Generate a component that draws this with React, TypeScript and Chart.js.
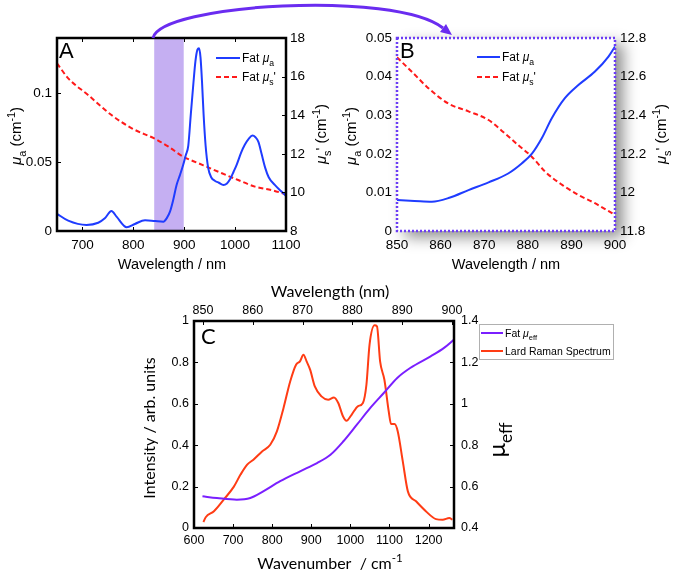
import React, { useEffect, useRef } from 'react';
import { Chart, registerables } from 'chart.js';
Chart.register(...registerables);

// ---------- Panel A ----------
const A_X_TICKS = [700, 800, 900, 1000, 1100];
const A_Y_TICKS = [0, 0.05, 0.1];
const A_Y2_TICKS = [8, 10, 12, 14, 16, 18];
const A_SHADE = [841, 899];
const A_WL_MUA = [650, 672, 708, 731, 744, 757, 767, 787, 803, 823, 843, 859, 866, 872, 878, 885, 892, 898, 903, 908, 913, 918, 922, 926, 929, 932, 935, 938, 942, 947, 953, 960, 968, 977, 984, 990, 997, 1003, 1012, 1019, 1027, 1034, 1040, 1046, 1052, 1059, 1066, 1078, 1090, 1100];
const A_MUA = [0.0125, 0.0075, 0.0044, 0.006, 0.0092, 0.0145, 0.0104, 0.0027, 0.0051, 0.0078, 0.0072, 0.0068, 0.0095, 0.014, 0.022, 0.0334, 0.041, 0.048, 0.055, 0.062, 0.085, 0.107, 0.123, 0.1315, 0.1325, 0.126, 0.108, 0.085, 0.062, 0.046, 0.039, 0.0365, 0.035, 0.0334, 0.0345, 0.0375, 0.043, 0.048, 0.057, 0.0625, 0.067, 0.0692, 0.068, 0.0645, 0.056, 0.046, 0.039, 0.0334, 0.029, 0.0255];
const A_WL_MUS = [650, 672, 711, 757, 797, 843, 869, 898, 928, 967, 1006, 1039, 1072, 1100];
const A_MUS = [16.69, 15.91, 15.05, 14.01, 13.32, 12.77, 12.37, 11.85, 11.51, 11.07, 10.64, 10.3, 10.12, 9.9];

// ---------- Panel B ----------
const B_X_TICKS = [850, 860, 870, 880, 890, 900];
const B_Y_TICKS = [0, 0.01, 0.02, 0.03, 0.04, 0.05];
const B_Y2_TICKS = [11.8, 12, 12.2, 12.4, 12.6, 12.8];
const B_WL_MUA = [850, 854, 858, 862, 866.4, 871, 875.5, 878.6, 881, 883.2, 885.5, 888.5, 891.6, 895.4, 898.5, 900];
const B_MUA = [0.008, 0.0078, 0.0076, 0.0086, 0.0106, 0.0126, 0.0149, 0.0175, 0.0201, 0.024, 0.0292, 0.0344, 0.0378, 0.0413, 0.0452, 0.0478];
const B_WL_MUS = [850, 853.4, 857.2, 861.8, 866.4, 871, 874, 877.8, 880.9, 884, 887.8, 891.6, 895.4, 900];
const B_MUS = [12.7, 12.625, 12.54, 12.46, 12.42, 12.375, 12.32, 12.245, 12.185, 12.107, 12.04, 11.987, 11.944, 11.883];

// ---------- Panel C ----------
const C_X_TICKS = [600, 700, 800, 900, 1000, 1100, 1200];
const C_XT_TICKS = [850, 860, 870, 880, 890, 900];
const C_Y_TICKS = [0, 0.2, 0.4, 0.6, 0.8, 1];
const C_Y2_TICKS = [0.4, 0.6, 0.8, 1, 1.2, 1.4];
const C_WN = [624, 630, 651, 676, 702, 719, 736, 752, 774, 795, 812, 829, 846, 861, 871, 880, 888, 897, 909, 926, 943, 958, 969, 981, 990, 1003, 1019, 1032, 1041, 1049, 1062, 1068, 1076, 1087, 1098, 1104, 1113, 1121, 1134, 1147, 1168, 1193, 1219, 1236, 1253, 1261];
const C_RAMAN = [0.029, 0.052, 0.081, 0.137, 0.2, 0.258, 0.306, 0.33, 0.37, 0.402, 0.467, 0.58, 0.708, 0.789, 0.805, 0.837, 0.805, 0.765, 0.684, 0.636, 0.62, 0.631, 0.604, 0.54, 0.518, 0.547, 0.588, 0.604, 0.692, 0.886, 0.979, 0.974, 0.805, 0.716, 0.564, 0.502, 0.502, 0.467, 0.322, 0.177, 0.129, 0.081, 0.043, 0.04, 0.048, 0.04];
const C_WL = [849.9, 852.8, 856.8, 859.5, 862.1, 865.5, 869.5, 872.9, 875.6, 878.2, 880.9, 883.6, 886.3, 889, 891.6, 895.7, 898.4, 900.4];
const C_MUEFF = [0.553, 0.545, 0.537, 0.545, 0.577, 0.626, 0.674, 0.714, 0.754, 0.819, 0.899, 0.98, 1.052, 1.125, 1.173, 1.229, 1.27, 1.31];

const BLUE = '#1f3cff';
const RED = '#ff1a1a';
const C_RED = '#ff3c14';
const C_PURPLE = '#7a1fff';
const ARROW = '#6a2cf0';
const B_BORDER = '#6b3cf5';
const ARIAL = '"Liberation Sans", Arial, sans-serif';
const LATO = 'Lato, "Liberation Sans", sans-serif';

type Seg = { t: string; sub?: boolean; sup?: boolean; it?: boolean };

function drawRich(ctx: CanvasRenderingContext2D, segs: Seg[], x: number, y: number, size: number, family: string, opts: { rot?: number; align?: 'center' | 'left'; color?: string; weight?: string } = {}) {
  ctx.save();
  ctx.translate(x, y);
  if (opts.rot) ctx.rotate(opts.rot);
  const fontFor = (s: Seg) => `${s.it ? 'italic ' : ''}${opts.weight || 'normal'} ${(s.sub || s.sup) ? size * 0.72 : size}px ${family}`;
  let total = 0;
  const widths = segs.map(s => { ctx.font = fontFor(s); const w = ctx.measureText(s.t).width; total += w; return w; });
  let cx = opts.align === 'left' ? 0 : -total / 2;
  ctx.textBaseline = 'alphabetic';
  ctx.textAlign = 'left';
  ctx.fillStyle = opts.color || '#000';
  segs.forEach((s, i) => {
    ctx.font = fontFor(s);
    const dy = s.sub ? size * 0.3 : s.sup ? -size * 0.42 : 0;
    ctx.fillText(s.t, cx, dy + size * 0.36);
    cx += widths[i];
  });
  ctx.restore();
}

const MUA_SEGS: Seg[] = [{ t: 'Fat ' }, { t: 'μ', it: true }, { t: 'a', sub: true }];
const MUS_SEGS: Seg[] = [{ t: 'Fat ' }, { t: 'μ', it: true }, { t: 's', sub: true }, { t: "'" }];
const MUA_TITLE: Seg[] = [{ t: 'μ', it: true }, { t: 'a', sub: true }, { t: ' (cm' }, { t: '-1', sup: true }, { t: ')' }];
const MUS_TITLE: Seg[] = [{ t: 'μ', it: true }, { t: 's', sub: true }, { t: "' (cm" }, { t: '-1', sup: true }, { t: ')' }];

function pts(xs: number[], ys: number[]) { return xs.map((x, i) => ({ x, y: ys[i] })); }

function scaleOpts(min: number, max: number, tickVals: number[], pos: string, fit: number, pad: number, font: any) {
  return {
    type: 'linear', position: pos, min, max,
    grid: { display: false, drawTicks: false }, border: { display: false },
    ticks: { font, color: '#000', padding: pad, autoSkip: false, maxRotation: 0, callback: (v: number) => String(v) },
    afterBuildTicks: (s: any) => { s.ticks = tickVals.map(v => ({ value: v })); },
    afterFit: (s: any) => { if (pos === 'left' || pos === 'right') s.width = fit; else s.height = fit; },
  };
}

function drawInwardTicks(ctx: CanvasRenderingContext2D, chart: any, ids: { id: string; sides: string[] }[], len: number, color: string) {
  const a = chart.chartArea;
  ctx.save();
  ctx.strokeStyle = color;
  ctx.lineWidth = 1;
  ids.forEach(({ id, sides }) => {
    const s = chart.scales[id];
    s.ticks.forEach((t: any) => {
      const p = Math.round(s.getPixelForValue(t.value)) + 0.5;
      sides.forEach(side => {
        ctx.beginPath();
        if (side === 'bottom') { ctx.moveTo(p, a.bottom); ctx.lineTo(p, a.bottom - len); }
        if (side === 'top') { ctx.moveTo(p, a.top); ctx.lineTo(p, a.top + len); }
        if (side === 'left') { ctx.moveTo(a.left, p); ctx.lineTo(a.left + len, p); }
        if (side === 'right') { ctx.moveTo(a.right, p); ctx.lineTo(a.right - len, p); }
        ctx.stroke();
      });
    });
  });
  ctx.restore();
}

function legendRow(ctx: CanvasRenderingContext2D, x1: number, x2: number, y: number, color: string, dash: number[], segs: Seg[], size: number, family: string) {
  ctx.save();
  ctx.strokeStyle = color;
  ctx.lineWidth = 2;
  ctx.setLineDash(dash);
  ctx.beginPath(); ctx.moveTo(x1, y); ctx.lineTo(x2, y); ctx.stroke();
  ctx.restore();
  drawRich(ctx, segs, x2 + 2, y, size, family, { align: 'left' });
}

function makeA(canvas: HTMLCanvasElement) {
  const font = { family: ARIAL, size: 13.5 };
  const plugin = {
    id: 'panelA',
    beforeDatasetsDraw(chart: any) {
      const ctx = chart.ctx; const a = chart.chartArea; const x = chart.scales.x;
      const l = x.getPixelForValue(A_SHADE[0]); const r = x.getPixelForValue(A_SHADE[1]);
      ctx.save(); ctx.fillStyle = 'rgba(150,110,232,0.55)'; ctx.fillRect(l, a.top, r - l, a.bottom - a.top); ctx.restore();
    },
    afterDraw(chart: any) {
      const ctx = chart.ctx; const a = chart.chartArea;
      drawInwardTicks(ctx, chart, [{ id: 'x', sides: ['bottom', 'top'] }, { id: 'y', sides: ['left'] }, { id: 'y2', sides: ['right'] }], 4, '#000');
      ctx.save(); ctx.strokeStyle = '#000'; ctx.lineWidth = 2.5; ctx.strokeRect(a.left, a.top, a.right - a.left, a.bottom - a.top); ctx.restore();
      ctx.save(); ctx.font = `22px ${ARIAL}`; ctx.fillStyle = '#000'; ctx.textBaseline = 'alphabetic'; ctx.fillText('A', 59, 58); ctx.restore();
      legendRow(ctx, 216, 240, 58, BLUE, [], MUA_SEGS, 12, ARIAL);
      legendRow(ctx, 216, 240, 77, RED, [5, 3], MUS_SEGS, 12, ARIAL);
      ctx.save(); ctx.font = `14.5px ${ARIAL}`; ctx.fillStyle = '#000'; ctx.textAlign = 'center'; ctx.textBaseline = 'middle'; ctx.fillText('Wavelength / nm', 172, 265); ctx.restore();
      drawRich(ctx, MUA_TITLE, 16, 136, 15, ARIAL, { rot: -Math.PI / 2 });
      drawRich(ctx, MUS_TITLE, 321, 134, 15, ARIAL, { rot: -Math.PI / 2 });
    },
  };
  return new Chart(canvas, {
    type: 'line',
    data: {
      datasets: [
        { label: 'Fat μa', data: pts(A_WL_MUA, A_MUA), xAxisID: 'x', yAxisID: 'y', borderColor: BLUE, borderWidth: 2, pointRadius: 0, cubicInterpolationMode: 'monotone', fill: false } as any,
        { label: "Fat μs'", data: pts(A_WL_MUS, A_MUS), xAxisID: 'x', yAxisID: 'y2', borderColor: RED, borderWidth: 2, borderDash: [5, 3], pointRadius: 0, cubicInterpolationMode: 'monotone', fill: false } as any,
      ],
    },
    options: {
      responsive: false, animation: false, devicePixelRatio: 1,
      layout: { padding: { top: 38, left: 0, right: 0, bottom: 0 } },
      plugins: { legend: { display: false }, tooltip: { enabled: false } },
      scales: {
        x: scaleOpts(650, 1100, A_X_TICKS, 'bottom', 44, 6, font),
        y: scaleOpts(0, 0.14, A_Y_TICKS, 'left', 57, 5, font),
        y2: scaleOpts(8, 18, A_Y2_TICKS, 'right', 62, 4, font),
      } as any,
    },
    plugins: [plugin],
  } as any);
}

function makeB(canvas: HTMLCanvasElement) {
  const font = { family: ARIAL, size: 13.5 };
  const plugin = {
    id: 'panelB',
    beforeDraw(chart: any) {
      const ctx = chart.ctx; const a = chart.chartArea;
      ctx.save();
      ctx.shadowColor = 'rgba(0,0,0,0.45)'; ctx.shadowBlur = 14; ctx.shadowOffsetX = 8; ctx.shadowOffsetY = 6;
      ctx.fillStyle = '#fff'; ctx.fillRect(a.left, a.top, a.right - a.left, a.bottom - a.top);
      ctx.restore();
    },
    afterDraw(chart: any) {
      const ctx = chart.ctx; const a = chart.chartArea;
      ctx.save(); ctx.strokeStyle = B_BORDER; ctx.lineWidth = 2.5; ctx.setLineDash([2, 2]); ctx.strokeRect(a.left, a.top, a.right - a.left, a.bottom - a.top); ctx.restore();
      ctx.save(); ctx.font = `22px ${ARIAL}`; ctx.fillStyle = '#000'; ctx.textBaseline = 'alphabetic'; ctx.fillText('B', 60, 58); ctx.restore();
      legendRow(ctx, 137, 160, 57, BLUE, [], MUA_SEGS, 12, ARIAL);
      legendRow(ctx, 137, 160, 77, RED, [5, 3], MUS_SEGS, 12, ARIAL);
      ctx.save(); ctx.font = `14.5px ${ARIAL}`; ctx.fillStyle = '#000'; ctx.textAlign = 'center'; ctx.textBaseline = 'middle'; ctx.fillText('Wavelength / nm', 166, 265); ctx.restore();
      drawRich(ctx, MUA_TITLE, 11, 136, 15, ARIAL, { rot: -Math.PI / 2 });
      drawRich(ctx, MUS_TITLE, 321, 134, 15, ARIAL, { rot: -Math.PI / 2 });
    },
  };
  return new Chart(canvas, {
    type: 'line',
    data: {
      datasets: [
        { label: 'Fat μa', data: pts(B_WL_MUA, B_MUA), xAxisID: 'x', yAxisID: 'y', borderColor: BLUE, borderWidth: 2, pointRadius: 0, cubicInterpolationMode: 'monotone', fill: false } as any,
        { label: "Fat μs'", data: pts(B_WL_MUS, B_MUS), xAxisID: 'x', yAxisID: 'y2', borderColor: RED, borderWidth: 2, borderDash: [5, 3], pointRadius: 0, cubicInterpolationMode: 'monotone', fill: false } as any,
      ],
    },
    options: {
      responsive: false, animation: false, devicePixelRatio: 1,
      layout: { padding: { top: 38, left: 0, right: 0, bottom: 0 } },
      plugins: { legend: { display: false }, tooltip: { enabled: false } },
      scales: {
        x: scaleOpts(850, 900, B_X_TICKS, 'bottom', 44, 6, font),
        y: scaleOpts(0, 0.05, B_Y_TICKS, 'left', 57, 5, font),
        y2: scaleOpts(11.8, 12.8, B_Y2_TICKS, 'right', 81, 5, font),
      } as any,
    },
    plugins: [plugin],
  } as any);
}

// canvas C placed at page (120, 270)
function makeC(canvas: HTMLCanvasElement) {
  const font = { family: ARIAL, size: 12.5 };
  const plugin = {
    id: 'panelC',
    afterDraw(chart: any) {
      const ctx = chart.ctx; const a = chart.chartArea;
      drawInwardTicks(ctx, chart, [{ id: 'x', sides: ['bottom'] }, { id: 'xt', sides: ['top'] }, { id: 'y', sides: ['left'] }, { id: 'y2', sides: ['right'] }], 4, '#000');
      ctx.save(); ctx.strokeStyle = '#000'; ctx.lineWidth = 2.5; ctx.strokeRect(a.left, a.top, a.right - a.left, a.bottom - a.top); ctx.restore();
      ctx.save(); ctx.font = `22px ${LATO}`; ctx.fillStyle = '#000'; ctx.textBaseline = 'alphabetic'; ctx.fillText('C', 81, 74); ctx.restore();
      // legend box
      ctx.save(); ctx.fillStyle = '#fff'; ctx.fillRect(359, 54, 134, 35); ctx.strokeStyle = '#b0b0b0'; ctx.lineWidth = 1; ctx.strokeRect(359.5, 54.5, 134, 35); ctx.restore();
      legendRow(ctx, 361, 383, 63, C_PURPLE, [], [{ t: 'Fat ' }, { t: 'μ', it: true }, { t: 'eff', sub: true }], 10.5, ARIAL);
      legendRow(ctx, 361, 383, 81, C_RED, [], [{ t: 'Lard Raman Spectrum' }], 10.5, ARIAL);
      // titles
      ctx.save(); ctx.font = `16px ${LATO}`; ctx.fillStyle = '#000'; ctx.textAlign = 'center'; ctx.textBaseline = 'middle'; ctx.fillText('Wavelength (nm)', 210, 22); ctx.restore();
      drawRich(ctx, [{ t: 'Wavenumber  / cm' }, { t: '-1', sup: true }], 210, 293, 16, LATO);
      drawRich(ctx, [{ t: 'Intensity / arb. units' }], 29, 158, 16, LATO, { rot: -Math.PI / 2 });
      drawRich(ctx, [{ t: 'μ' }, { t: 'eff', sub: true }], 376, 170, 24, LATO, { rot: -Math.PI / 2 });
    },
  };
  return new Chart(canvas, {
    type: 'line',
    data: {
      datasets: [
        { label: 'Fat μeff', data: pts(C_WL, C_MUEFF), xAxisID: 'xt', yAxisID: 'y2', borderColor: C_PURPLE, borderWidth: 2, pointRadius: 0, cubicInterpolationMode: 'monotone', fill: false } as any,
        { label: 'Lard Raman Spectrum', data: pts(C_WN, C_RAMAN), xAxisID: 'x', yAxisID: 'y', borderColor: C_RED, borderWidth: 2, pointRadius: 0, cubicInterpolationMode: 'monotone', fill: false } as any,
      ],
    },
    options: {
      responsive: false, animation: false, devicePixelRatio: 1,
      layout: { padding: 0 },
      plugins: { legend: { display: false }, tooltip: { enabled: false } },
      scales: {
        x: scaleOpts(600, 1265, C_X_TICKS, 'bottom', 46, 5, font),
        xt: scaleOpts(848.2, 900.4, C_XT_TICKS, 'top', 51, 3, font),
        y: scaleOpts(0, 1, C_Y_TICKS, 'left', 74, 5, font),
        y2: scaleOpts(0.4, 1.4, C_Y2_TICKS, 'right', 242, 7, font),
      } as any,
    },
    plugins: [plugin],
  } as any);
}

export default function App() {
  const aRef = useRef<HTMLCanvasElement>(null);
  const bRef = useRef<HTMLCanvasElement>(null);
  const cRef = useRef<HTMLCanvasElement>(null);
  useEffect(() => {
    const charts = [makeA(aRef.current!), makeB(bRef.current!), makeC(cRef.current!)];
    return () => charts.forEach(c => c.destroy());
  }, []);
  const abs = (l: number, t: number): React.CSSProperties => ({ position: 'absolute', left: l, top: t });
  return (
    <div style={{ position: 'absolute', left: 0, top: 0, width: 696, height: 574, background: '#fff', overflow: 'hidden' }}>
      <canvas ref={aRef} width={348} height={275} style={abs(0, 0)} />
      <canvas ref={bRef} width={356} height={275} style={abs(340, 0)} />
      <canvas ref={cRef} width={576} height={304} style={abs(120, 270)} />
      <svg width={696} height={574} style={{ ...abs(0, 0), pointerEvents: 'none' }}>
        <path d="M153,38 C160,4 395,-10 443,28" stroke={ARROW} strokeWidth={3} fill="none" />
        <polygon points="452,35 440,32 446,24" fill={ARROW} />
      </svg>
    </div>
  );
}
